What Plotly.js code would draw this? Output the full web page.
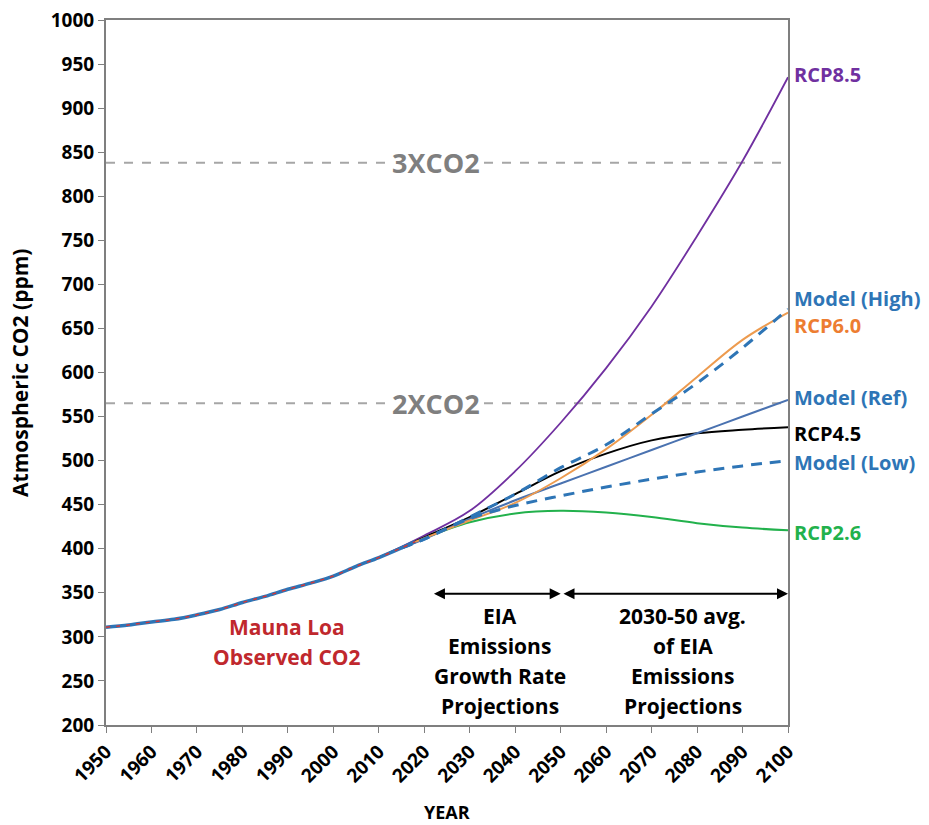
<!DOCTYPE html>
<html>
<head>
<meta charset="utf-8">
<script src="https://cdn.plot.ly/plotly-3.0.1.min.js"></script>
<style>html,body{margin:0;padding:0;background:#fff;}#chart{width:929px;height:825px;}</style>
</head>
<body>
<div id="chart"></div>
<script>
// ---- data ----
const obsYears = [1950,1955,1960,1965,1970,1975,1980,1985,1990,1995,2000,2005,2010,2015,2018];
const obsCO2   = [311,313.5,317,320,325,331,339,346,354,361,369,380,390,401,408];

const rcpYears = [2010,2020,2030,2040,2050,2060,2070,2080,2090,2100];
const rcp85 = [390,415,443,488,543,605,675,755,840,935];
const rcp60 = [390,412,432,452,480,513,552,595,637,668];
const rcp45 = [390,413,436,462,488,508,523,531,535,538];
const rcp26 = [390,412,430,440,443,441,436,429,424,421];

const modelYears = [2015,2020,2030,2040,2050,2060,2070,2080,2090,2100];
const modelHigh = [401,411,436,462,492,518,553,588,628,672];
const modelRef  = [401,411,434,455,474,493,512,531,550,569];
const modelLow  = [401,411,434,449,460,470,479,487,494,500];

const doubleCO2 = 565;
const tripleCO2 = 838;

const yTicks = [200,250,300,350,400,450,500,550,600,650,700,750,800,850,900,950,1000];
const xTicks = [1950,1960,1970,1980,1990,2000,2010,2020,2030,2040,2050,2060,2070,2080,2090,2100];

const endLabels = [
  {text:'RCP8.5', y:937.6, color:'#7030a0'},
  {text:'Model (High)', y:684.5, color:'#2e75b6'},
  {text:'RCP6.0', y:652.8, color:'#ed7d31'},
  {text:'Model (Ref)', y:572.2, color:'#2e75b6'},
  {text:'RCP4.5', y:531.3, color:'#000000'},
  {text:'Model (Low)', y:498.4, color:'#2e75b6'},
  {text:'RCP2.6', y:417.9, color:'#22b14c'}
];
const eiaLines = ['EIA','Emissions','Growth Rate','Projections'];
const avgLines = ['2030-50 avg.','of EIA','Emissions','Projections'];
const textLineY = [323.7,289.6,255.6,221.6];
const maunaLines = ['Mauna Loa','Observed CO2'];
const maunaLineY = [311.2,277.2];

// ---- traces ----
const FONT = '"Open Sans", Lato, sans-serif';
const traces = [
  {x:[1950,2100], y:[doubleCO2,doubleCO2], mode:'lines', line:{color:'#a6a6a6', width:2, dash:'dash'}, hoverinfo:'skip'},
  {x:[1950,2100], y:[tripleCO2,tripleCO2], mode:'lines', line:{color:'#a6a6a6', width:2, dash:'dash'}, hoverinfo:'skip'},
  {x:rcpYears, y:rcp26, mode:'lines', line:{color:'#22b14c', width:2, shape:'spline'}},
  {x:rcpYears, y:rcp85, mode:'lines', line:{color:'#7030a0', width:1.8, shape:'spline'}},
  {x:rcpYears, y:rcp45, mode:'lines', line:{color:'#000000', width:2, shape:'spline'}},
  {x:modelYears, y:modelRef, mode:'lines', line:{color:'#4a72b0', width:2, shape:'spline'}},
  {x:rcpYears, y:rcp60, mode:'lines', line:{color:'#ed9b4f', width:2, shape:'spline'}},
  {x:modelYears, y:modelHigh, mode:'lines', line:{color:'#2e75b6', width:3, dash:'11px,8px', shape:'spline'}},
  {x:modelYears, y:modelLow, mode:'lines', line:{color:'#2e75b6', width:3, dash:'11px,8px', shape:'spline'}},
  {x:obsYears, y:obsCO2, mode:'lines', line:{color:'#2e75b6', width:3.5, shape:'spline'}},
  {x:obsYears, y:obsCO2, mode:'lines', line:{color:'#d0383a', width:1.5, dash:'4px,6px', shape:'spline'}}
];

// ---- annotations ----
const ann = [];
ann.push({x:2022.6, y:doubleCO2, xref:'x', yref:'y', text:'<b>2XCO2</b>', showarrow:false, bgcolor:'#ffffff',
  font:{family:FONT, size:27, color:'#7f7f7f'}, xanchor:'center', yanchor:'middle', borderpad:0});
ann.push({x:2022.6, y:tripleCO2, xref:'x', yref:'y', text:'<b>3XCO2</b>', showarrow:false, bgcolor:'#ffffff',
  font:{family:FONT, size:27, color:'#7f7f7f'}, xanchor:'center', yanchor:'middle', borderpad:0});
endLabels.forEach(l => ann.push({x:1.0075, y:l.y, xref:'paper', yref:'y', text:'<b>'+l.text+'</b>', showarrow:false,
  xanchor:'left', yanchor:'middle', borderpad:0, font:{family:FONT, size:20, color:l.color}}));
eiaLines.forEach((t,i) => ann.push({x:2036.6, y:textLineY[i], xref:'x', yref:'y', text:'<b>'+t+'</b>', showarrow:false,
  xanchor:'center', yanchor:'middle', font:{family:FONT, size:21, color:'#000'}}));
avgLines.forEach((t,i) => ann.push({x:2076.8, y:textLineY[i], xref:'x', yref:'y', text:'<b>'+t+'</b>', showarrow:false,
  xanchor:'center', yanchor:'middle', font:{family:FONT, size:21, color:'#000'}}));
maunaLines.forEach((t,i) => ann.push({x:1989.8, y:maunaLineY[i], xref:'x', yref:'y', text:'<b>'+t+'</b>', showarrow:false,
  xanchor:'center', yanchor:'middle', font:{family:FONT, size:21, color:'#c0282d'}}));
// axis titles
ann.push({x:-0.127, y:0.5, xref:'paper', yref:'paper', text:'<b>Atmospheric CO2 (ppm)</b>', textangle:-90, showarrow:false,
  xanchor:'center', yanchor:'middle', font:{family:FONT, size:21, color:'#000'}});
ann.push({x:0.5, y:-0.1234, xref:'paper', yref:'paper', text:'<b>YEAR</b>', showarrow:false,
  xanchor:'center', yanchor:'middle', font:{family:FONT, size:18, color:'#000'}});
// arrows
ann.push({x:2050, y:349, ax:2021.8, ay:349, xref:'x', yref:'y', axref:'x', ayref:'y', text:'', showarrow:true,
  arrowhead:2, startarrowhead:2, arrowside:'end+start', arrowsize:1.1, arrowwidth:2, arrowcolor:'#000'});
ann.push({x:2100, y:349, ax:2050.3, ay:349, xref:'x', yref:'y', axref:'x', ayref:'y', text:'', showarrow:true,
  arrowhead:2, startarrowhead:2, arrowside:'end+start', arrowsize:1.1, arrowwidth:2, arrowcolor:'#000'});

const layout = {
  width:929, height:825,
  margin:{l:106, r:141, t:20, b:100},
  paper_bgcolor:'#fff', plot_bgcolor:'#fff',
  showlegend:false,
  font:{family:FONT, color:'#000'},
  xaxis:{range:[1950,2100], tickvals:xTicks, ticktext:xTicks.map(v=>'<b>'+v+'</b>'), tickangle:-45,
    ticks:'outside', ticklen:6, tickcolor:'#7f7f7f', showgrid:false, zeroline:false,
    showline:true, linecolor:'#7f7f7f', linewidth:2, mirror:true,
    tickfont:{family:FONT, size:19, color:'#000'}},
  yaxis:{range:[200,1000], tickvals:yTicks, ticktext:yTicks.map(v=>'<b>'+v+'</b>'),
    ticks:'outside', ticklen:6, tickcolor:'#7f7f7f', showgrid:false, zeroline:false,
    showline:true, linecolor:'#7f7f7f', linewidth:2, mirror:true,
    tickfont:{family:FONT, size:19, color:'#000'}},
  annotations:ann
};

Plotly.newPlot('chart', traces, layout, {displayModeBar:false, staticPlot:true});
</script>
</body>
</html>
